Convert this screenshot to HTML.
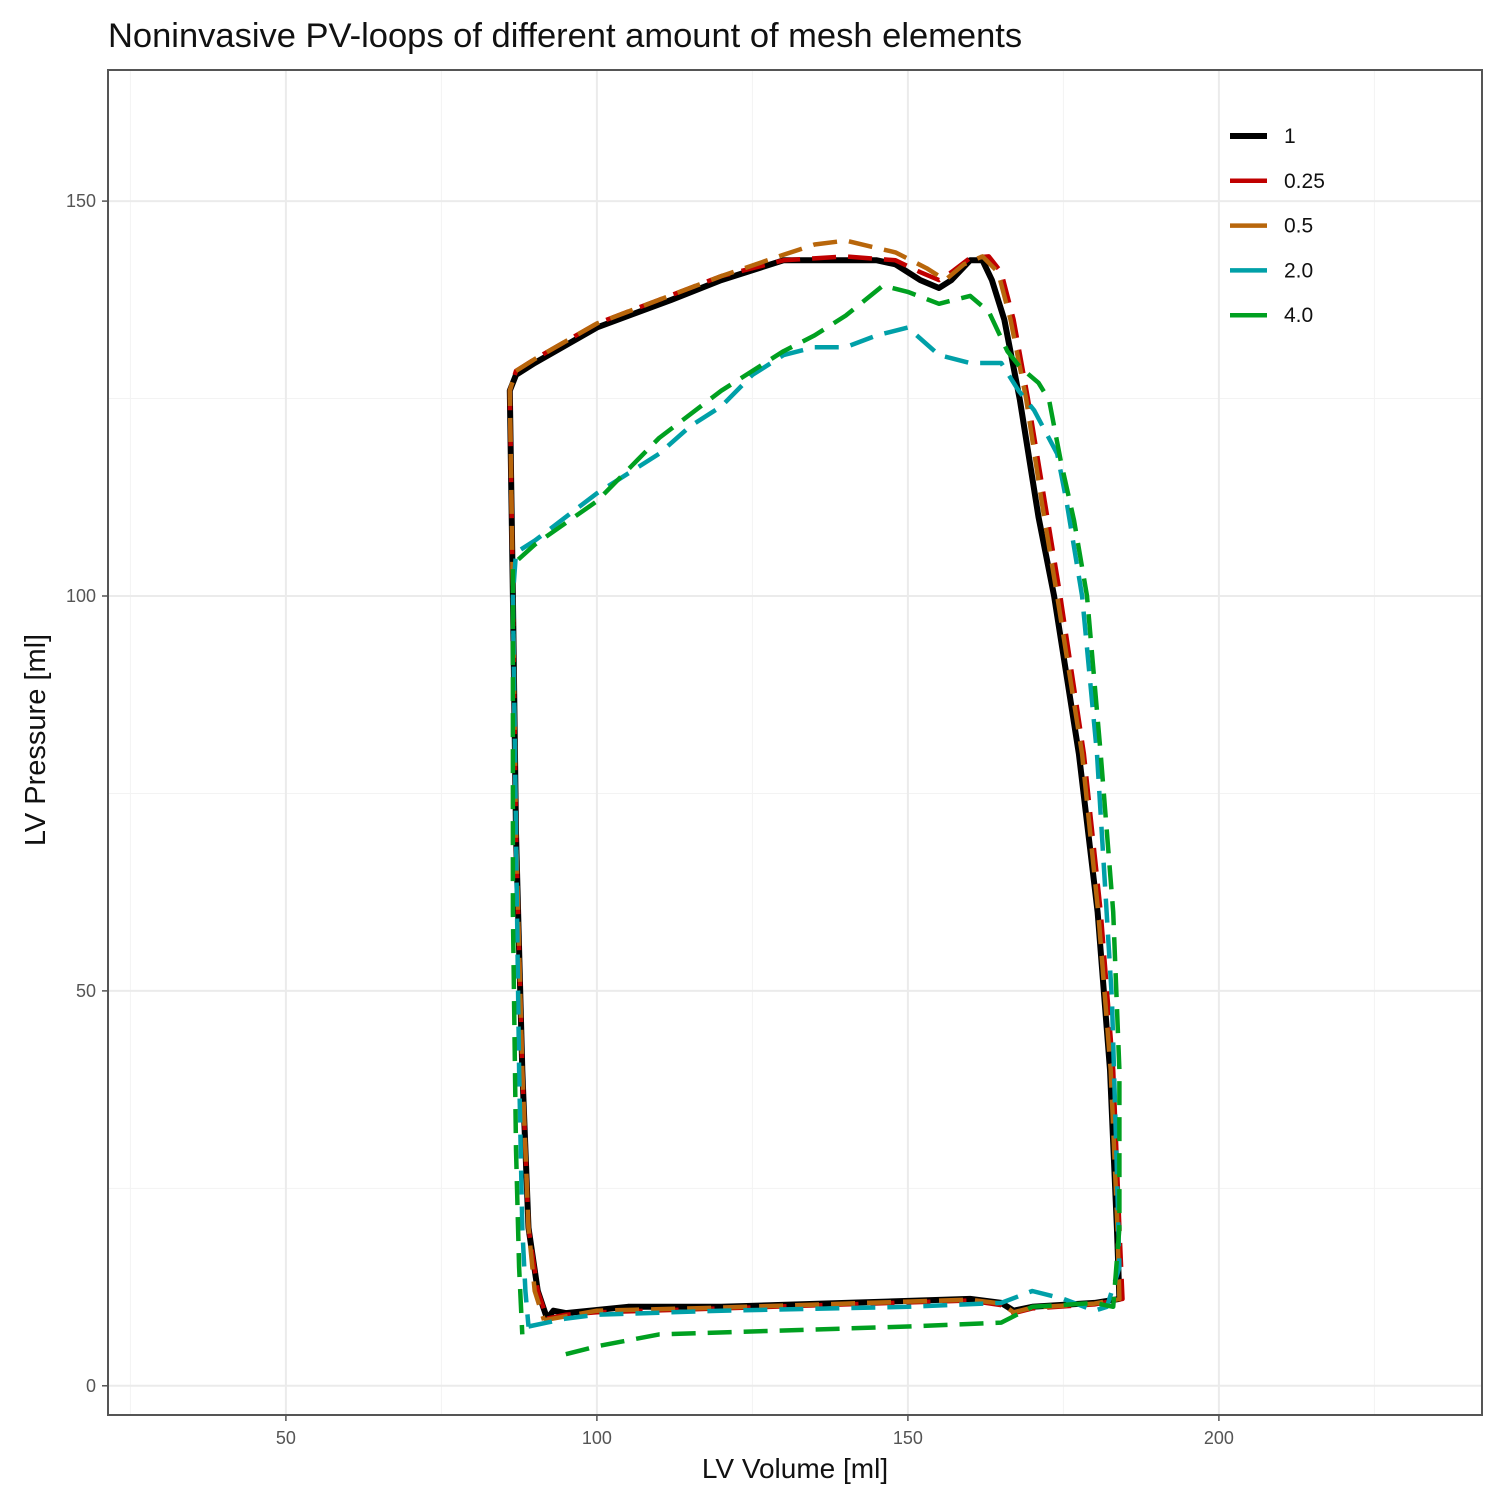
<!DOCTYPE html>
<html><head><meta charset="utf-8"><style>
html,body{margin:0;padding:0;background:#fff;}
svg{display:block;font-family:"Liberation Sans",sans-serif;}
</style></head><body>
<svg id="chart" width="1510" height="1499">
<text x="108" y="47" font-size="34.5" fill="#111">Noninvasive PV-loops of different amount of mesh elements</text>
<g id="grid"></g>
<g id="series"></g>
<rect x="108" y="70" width="1374" height="1345" fill="none" stroke="#555" stroke-width="2"/>
<g id="ticks"></g>
<text x="795" y="1478" font-size="28" text-anchor="middle" fill="#111">LV Volume [ml]</text>
<text transform="translate(45,740) rotate(-90)" font-size="29" text-anchor="middle" fill="#111">LV Pressure [ml]</text>
<g id="legend"></g>
</svg>
<script>
const xTicks=[50,100,150,200];
const yTicks=[0,50,100,150];
const seriesNames=["1","0.25","0.5","2.0","4.0"];
const seriesColors=["#000000","#c00000","#b8660b","#00a0a8","#00a020"];
const s1=[[92,8.5],[93,9.5],[95,9.2],[100,9.6],[105,10],[120,10],[140,10.5],[160,11],[165,10.5],[167,9.5],[170,10],[180,10.5],[184,11],[183.6,20],[182.5,40],[180.5,60],[177.5,80],[173.5,100],[171,110],[168,124.8],[165.5,135],[163.5,140],[162,142.5],[160,142.5],[157,140],[155,139],[152,140],[148,142],[145,142.5],[140,142.5],[130,142.5],[120,140],[112,137.5],[100,134],[90,129.5],[87,128],[86,126],[86.5,100],[87,70],[88,40],[89,20],[90.5,12],[92,8.5]];
const s025=[[92,8.5],[95,9],[100,9.3],[120,9.8],[140,10.3],[160,10.8],[165,10.2],[167,9.2],[170,9.8],[180,10.3],[184.5,11],[184,20],[183,40],[181,60],[178.3,80],[174.5,100],[172,112],[169.3,125],[167,135],[165,141],[163,143],[160,142.8],[157,141],[155,140],[152,141],[148,142.5],[140,143],[130,142.5],[120,140.5],[110,137.5],[100,134.5],[90,130],[87,128.5],[86,126],[86.5,100],[87,70],[88,40],[89,20],[90.5,12],[92,8.5]];
const s05=[[91.5,8.3],[95,8.8],[100,9.5],[120,9.9],[140,10.4],[160,10.9],[165,10.4],[167,9.3],[170,9.9],[180,10.4],[184,11],[183.7,20],[182.6,40],[180.6,60],[178,80],[174,100],[171.5,112],[169,125],[166.5,135],[164.5,141],[162,143],[159,142],[156,140],[153,141.5],[148,143.5],[140,145],[135,144.5],[130,143.2],[120,140.5],[110,137.5],[100,134.5],[90,130],[87,128.5],[86,126],[86.5,100],[87,70],[88,40],[89,20],[90,12],[91.5,8.3]];
const s2=[[89,7.5],[92,8],[95,8.5],[100,9],[120,9.5],[150,10],[165,10.5],[170,12],[175,11],[180,9.5],[182,10],[184,15],[183.5,30],[182.8,49],[180.4,80],[178,100],[175.5,112],[174,118],[170.3,123.5],[167.8,126],[165,129.5],[160,129.5],[155,130.5],[150,134],[145,133],[140,131.5],[135,131.5],[130,130.5],[125,128],[120,124],[115,121.5],[110,118],[100,113],[90,107],[87,105.5],[86.5,100],[87,70],[87.5,40],[88,20],[88.5,12],[89,7.5]];
const s4=[[95,4],[100,5],[110,6.5],[130,7],[150,7.5],[165,8],[170,10],[180,10.5],[183,10],[184,20],[184,40],[183,60],[181,80],[178.8,100],[176.7,109.6],[174.6,117],[172.7,124.8],[171,127],[168,129],[166,131],[163,136],[160,138],[155,137],[150,138.5],[146,139.3],[140,135.5],[135,133],[130,131],[120,126],[110,120],[100,112],[90,106.5],[86.5,104],[86.5,90],[86.5,60],[87,30],[87.5,15],[88,6.5]];
const seriesData=[s1,s025,s05,s2,s4];

const X0=108,X1=1482,Y0=70,Y1=1415;
const xMin=21.4,xMax=242.3,yMin=-3.7,yMax=166.6;
const sx=v=>X0+(v-xMin)/(xMax-xMin)*(X1-X0);
const sy=v=>Y1-(v-yMin)/(yMax-yMin)*(Y1-Y0);
const NS="http://www.w3.org/2000/svg";
const grid=document.getElementById('grid'),ticks=document.getElementById('ticks'),ser=document.getElementById('series'),leg=document.getElementById('legend');
function mk(t,a){const e=document.createElementNS(NS,t);for(const k in a)e.setAttribute(k,a[k]);return e;}
const xMinor=[25,75,125,175,225],yMinor=[25,75,125];
xMinor.forEach(v=>{const l=mk('line',{x1:sx(v),x2:sx(v),y1:Y0,y2:Y1,stroke:'#f3f3f3','stroke-width':1});

grid.appendChild(l);});
yMinor.forEach(v=>{const l=mk('line',{x1:X0,x2:X1,y1:sy(v),y2:sy(v),stroke:'#f3f3f3','stroke-width':1});

grid.appendChild(l);});
xTicks.forEach(v=>{const l=mk('line',{x1:sx(v),x2:sx(v),y1:Y0,y2:Y1,stroke:'#ebebeb','stroke-width':2});

grid.appendChild(l);
const t=mk('line',{x1:sx(v),x2:sx(v),y1:Y1,y2:Y1+6,stroke:'#555','stroke-width':1.5});

ticks.appendChild(t);
const tx=mk('text',{x:sx(v),y:Y1+29,'font-size':18,'text-anchor':'middle',fill:'#555'});tx.textContent=v;

ticks.appendChild(tx);});
yTicks.forEach(v=>{const l=mk('line',{x1:X0,x2:X1,y1:sy(v),y2:sy(v),stroke:'#ebebeb','stroke-width':2});

grid.appendChild(l);
const t=mk('line',{x1:X0-6,x2:X0,y1:sy(v),y2:sy(v),stroke:'#555','stroke-width':1.5});

ticks.appendChild(t);
const tx=mk('text',{x:X0-12,y:sy(v)+6,'font-size':18,'text-anchor':'end',fill:'#555'});tx.textContent=v;

ticks.appendChild(tx);});
[0,1,2,3,4].forEach(i=>{const d=seriesData[i].map((p,j)=>(j?'L':'M')+sx(p[0]).toFixed(1)+','+sy(p[1]).toFixed(1)).join('');
const a={d:d,fill:'none',stroke:seriesColors[i],'stroke-width':i==0?6:4.5,'stroke-linejoin':'round'};
if(i>0)a['stroke-dasharray']='24 12';
const p=mk('path',a);

ser.appendChild(p);});
seriesNames.forEach((n,i)=>{const y=136+i*44.8;
const l=mk('line',{x1:1230,x2:1267,y1:y,y2:y,stroke:seriesColors[i],'stroke-width':i==0?6:4.5});

leg.appendChild(l);
const t=mk('text',{x:1284,y:y+7,'font-size':21,fill:'#111'});t.textContent=n;

leg.appendChild(t);});
</script>
</body></html>
